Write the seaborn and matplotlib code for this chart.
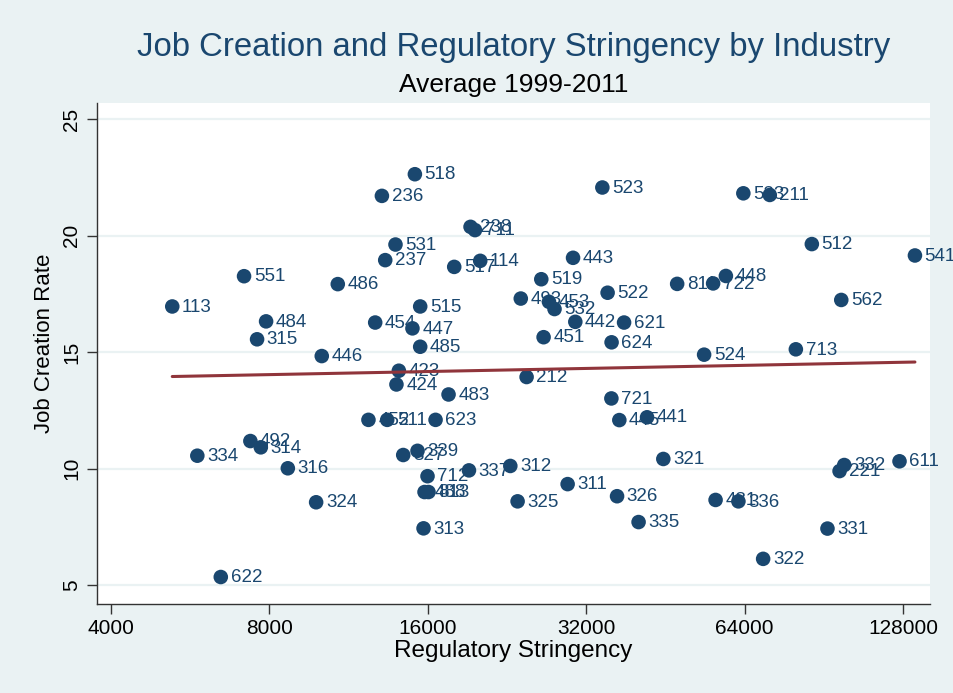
import matplotlib
matplotlib.use("Agg")
import matplotlib.pyplot as plt
from matplotlib.ticker import FixedLocator, FixedFormatter, NullLocator
import seaborn as sns
import pandas as pd

# industry codes (NAICS 3-digit)
codes = ["113", "551", "486", "484", "315", "446", "334", "492", "314", "316",
         "324", "622", "236", "518", "531", "237", "238", "711", "517", "114",
         "515", "454", "447", "485", "423", "424", "483", "452", "511", "623",
         "339", "327", "712", "337", "312", "488", "813", "313", "325", "212",
         "493", "519", "453", "532", "451", "443", "442", "523", "522", "621",
         "624", "721", "445", "441", "311", "326", "335", "321", "811", "722",
         "448", "524", "533", "211", "512", "541", "562", "713", "332", "221",
         "611", "481", "336", "331", "322"]

stringency = [5230, 7160, 10790, 7885, 7580, 10060, 5836, 7361, 7705, 8672,
              9815, 6467, 13088, 15120, 13890, 13280, 19290, 19670, 17960, 20125,
              15476, 12710, 14960, 15476, 14096, 13948, 17520, 12340, 13396, 16552,
              15296, 14368, 15980, 19156, 22956, 15772, 16048, 15704, 23700, 24652,
              24032, 26288, 27188, 27856, 26556, 30208, 30508, 34340, 35140, 37764,
              35756, 35724, 36988, 41760, 29500, 36624, 40240, 44840, 47640, 55760,
              58960, 53600, 63640, 71440, 85880, 134840, 97680, 80080, 98960, 96960,
              126040, 56360, 62280, 91960, 69400]

job_rate = [16.96, 18.26, 17.92, 16.32, 15.55, 14.83, 10.55, 11.18, 10.91, 10.01,
            8.55, 5.34, 21.71, 22.64, 19.62, 18.95, 20.38, 20.24, 18.66, 18.92,
            16.96, 16.27, 16.02, 15.23, 14.20, 13.61, 13.18, 12.09, 12.09, 12.09,
            10.76, 10.58, 9.67, 9.92, 10.11, 8.99, 8.99, 7.43, 8.59, 13.93,
            17.30, 18.13, 17.16, 16.85, 15.64, 19.05, 16.30, 22.07, 17.55, 16.27,
            15.42, 13.01, 12.08, 12.20, 9.33, 8.81, 7.70, 10.41, 17.93, 17.95,
            18.27, 14.89, 21.82, 21.75, 19.64, 19.15, 17.24, 15.12, 10.15, 9.89,
            10.31, 8.65, 8.59, 7.42, 6.12]

x_ticks = [4000, 8000, 16000, 32000, 64000, 128000]
y_ticks = [5, 10, 15, 20, 25]

df = pd.DataFrame({"code": codes, "stringency": stringency, "rate": job_rate})

navy = "#1a476f"
maroon = "#90353b"
bg = "#eaf2f3"

sns.set_theme(style="ticks")
plt.rcParams["font.family"] = ["Liberation Sans", "DejaVu Sans"]

fig = plt.figure(figsize=(9.54, 6.93), dpi=100, facecolor=bg)
ax = fig.add_axes([0.1012, 0.1284, 0.8736, 0.723])
ax.set_facecolor("white")

for t in y_ticks:
    ax.axhline(t, color=bg, lw=1.6, zorder=0)

sns.scatterplot(data=df, x="stringency", y="rate", ax=ax, color=navy,
                s=110, edgecolor="none", zorder=3)

for _, r in df.iterrows():
    ax.annotate(r["code"], (r["stringency"], r["rate"]), xytext=(7, -0.5),
                textcoords="offset points", va="center", ha="left",
                fontsize=13.5, color=navy, zorder=4, annotation_clip=False)

sns.regplot(data=df, x="stringency", y="rate", ax=ax, logx=True, scatter=False,
            ci=None, color=maroon, line_kws={"lw": 2.2, "zorder": 5})

ax.set_xscale("log", base=2)
ax.set_xlim(3755, 144000)
ax.set_ylim(4.18, 25.7)
ax.xaxis.set_major_locator(FixedLocator(x_ticks))
ax.xaxis.set_major_formatter(FixedFormatter([str(v) for v in x_ticks]))
ax.xaxis.set_minor_locator(NullLocator())
ax.yaxis.set_major_locator(FixedLocator(y_ticks))

ax.tick_params(axis="both", labelsize=15, length=7, width=1, color="#333333",
               labelcolor="black", pad=4)
for lab in ax.get_yticklabels():
    lab.set_rotation(90)
    lab.set_va("center")

for side in ["top", "right"]:
    ax.spines[side].set_visible(False)
for side in ["left", "bottom"]:
    ax.spines[side].set_color("#333333")
    ax.spines[side].set_linewidth(1)

ax.set_xlabel("")
ax.set_ylabel("")
fig.text(0.538, 0.061, "Regulatory Stringency", ha="center", va="center",
         fontsize=17.5, color="black")
fig.text(0.047, 0.505, "Job Creation Rate", ha="center", va="center",
         rotation=90, fontsize=16, color="black")
fig.text(0.538, 0.932, "Job Creation and Regulatory Stringency by Industry",
         ha="center", va="center", fontsize=23.7, color=navy)
fig.text(0.538, 0.878, "Average 1999-2011", ha="center", va="center",
         fontsize=19, color="black")

fig.savefig("out.png", dpi=100, facecolor=bg)
